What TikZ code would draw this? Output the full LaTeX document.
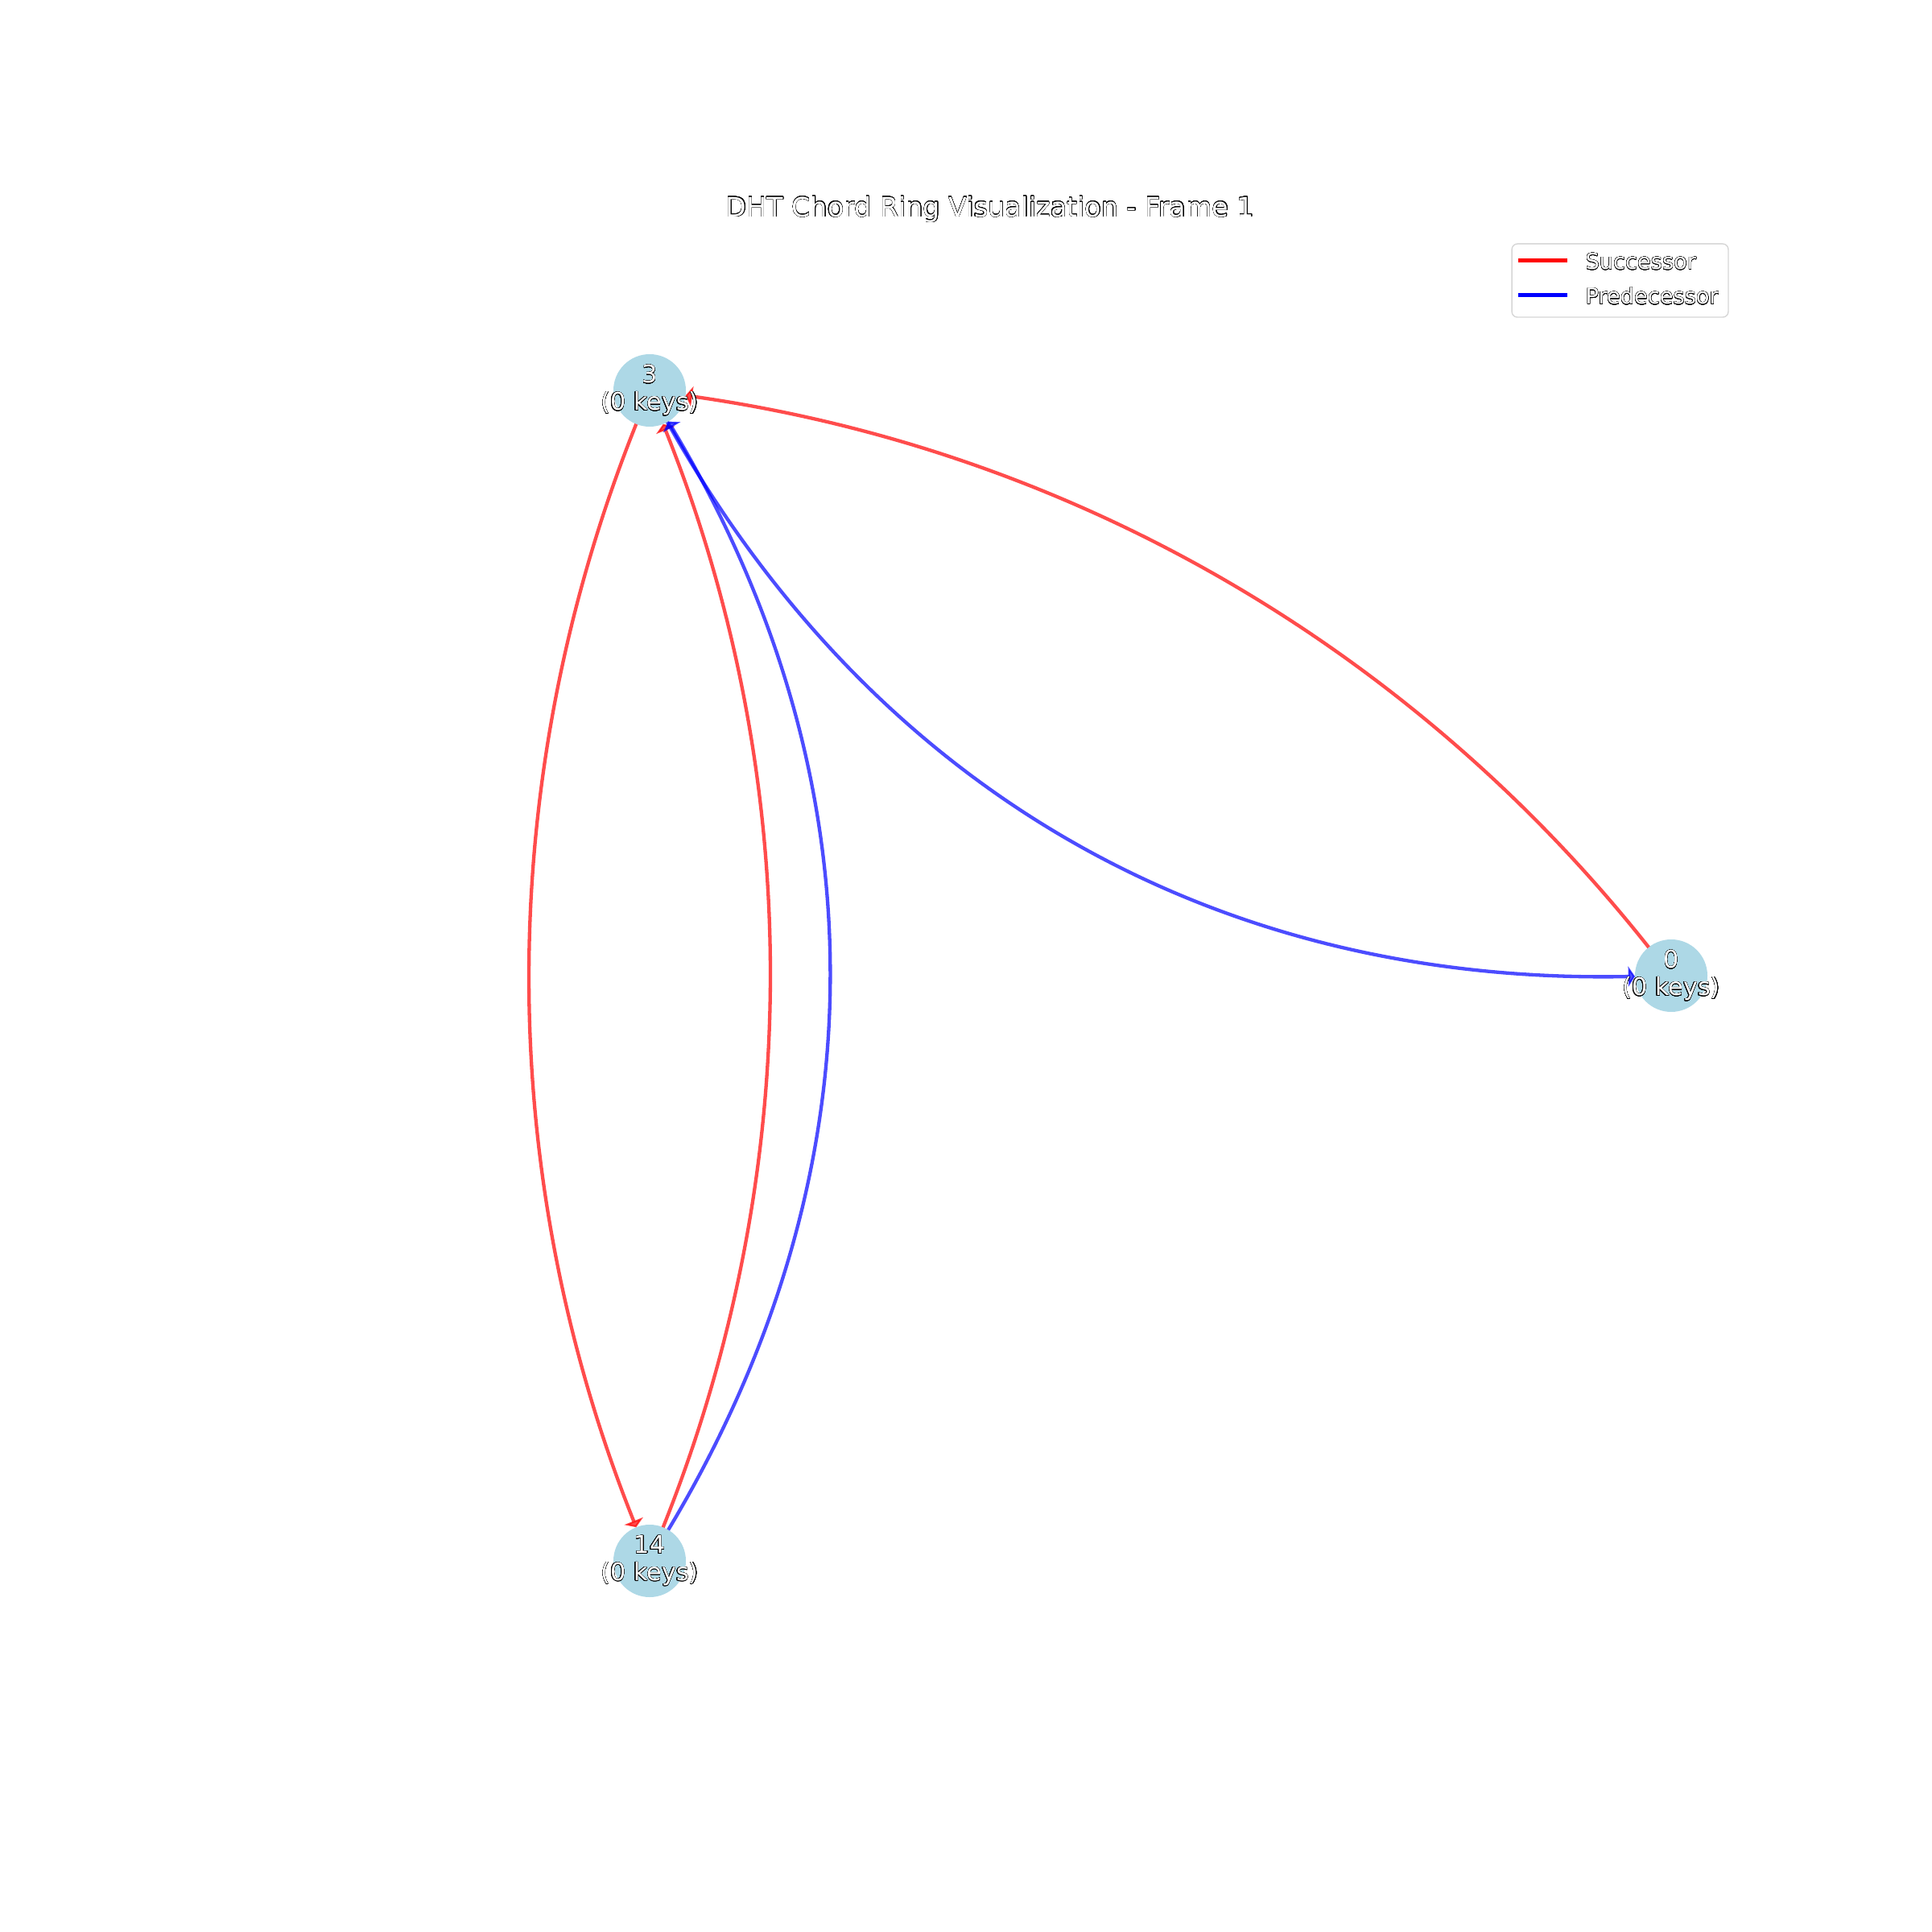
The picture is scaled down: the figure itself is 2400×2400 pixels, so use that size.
\documentclass[tikz,border=0pt]{standalone}
\usepackage{fontspec}
\setmainfont{DejaVu Sans}
\usepackage{contour}
\contourlength{0.12pt}
\contournumber{24}
\usetikzlibrary{arrows.meta}
\definecolor{nodeblue}{HTML}{ADD8E6}
\definecolor{legendedge}{HTML}{D6D6D6}
\newcommand{\otext}[1]{{\color{white}\contour{black}{#1}}}
\begin{document}
\begin{tikzpicture}[x=0.36pt,y=-0.36pt,
  ringnode/.style={circle,fill=nodeblue,draw=none,minimum size=32.4pt,inner sep=0pt},
  nodelabel/.style={align=center,font=\fontsize{10.9}{12.2}\selectfont,inner sep=0pt},
  edgebase/.style={opacity=0.7,line width=1.55pt,shorten <=16.2pt,shorten >=16.2pt,-{Triangle[length=3pt,width=9pt]}},
  succ/.style={edgebase,draw=red},
  pred/.style={edgebase,draw=blue},
  legline/.style={line width=1.8pt},
  legtext/.style={anchor=west,inner sep=0pt,font=\fontsize{9.8}{12}\selectfont},
  titletext/.style={inner sep=0pt,font=\fontsize{12}{14}\selectfont}]
\useasboundingbox[fill=white] (0,0) rectangle (2400,2400);

% nodes
\node[ringnode] (n3) at (807,485) {};
\node[ringnode] (n14) at (807,1939) {};
\node[ringnode] (n0) at (2076,1212) {};

% edges
\draw[succ] (n3.center) .. controls (613.1,969.7) and (613.1,1454.3) .. (n14.center);
\draw[succ] (n14.center) .. controls (1000.9,1454.3) and (1000.9,969.7) .. (n3.center);
\draw[succ] (n0.center) .. controls (1749.9,800.5) and (1326.9,558.1) .. (n3.center);
\draw[pred] (n14.center) .. controls (1097.8,1454.3) and (1097.8,969.7) .. (n3.center);
\draw[pred] (n3.center) .. controls (1084.6,981.1) and (1507.6,1223.5) .. (n0.center);

% node labels
\node[nodelabel] (l3) at (807,485) {\otext{3}\\\otext{(0 keys)}};
\node[nodelabel] (l14) at (807,1939) {\otext{14}\\\otext{(0 keys)}};
\node[nodelabel] (l0) at (2076,1212) {\otext{0}\\\otext{(0 keys)}};

% title
\node[titletext] (title) at (1230,260) {\otext{DHT Chord Ring Visualization - Frame 1}};

% legend
\node[draw=legendedge,line width=0.5pt,rounded corners=2.5pt,minimum width=96.8pt,minimum height=32.8pt,inner sep=0pt] (legend) at (2012.5,348.5) {};
\coordinate (s1) at (1886,324);
\coordinate (s2) at (1947,324);
\coordinate (p1) at (1886,367);
\coordinate (p2) at (1947,367);
\draw[legline,red] (s1) -- (s2);
\draw[legline,blue] (p1) -- (p2);
\node[legtext] (lsucc) at (1969,325) {\otext{Successor}};
\node[legtext] (lpred) at (1969,368) {\otext{Predecessor}};
\end{tikzpicture}
\end{document}
